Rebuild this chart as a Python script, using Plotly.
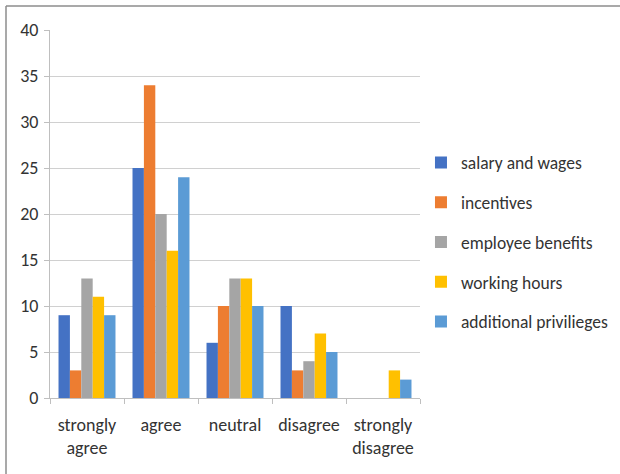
import plotly.graph_objects as go

categories = ["strongly<br>agree", "agree", "neutral", "disagree", "strongly<br>disagree"]
series_names = ["salary and wages", "incentives", "employee benefits", "working hours", "additional privilieges"]
salary = [9, 25, 6, 10, 0]
incentives = [3, 34, 10, 3, 0]
benefits = [13, 20, 13, 4, 0]
hours = [11, 16, 13, 7, 3]
privileges = [9, 24, 10, 5, 2]
colors = ["#4472C4", "#ED7D31", "#A5A5A5", "#FFC000", "#5B9BD5"]
y_ticks = [0, 5, 10, 15, 20, 25, 30, 35, 40]

font_family = "Carlito, DejaVu Sans Condensed, Roboto, sans-serif"

L, R, T, B = 50, 200, 30, 76
PW = 620 - L - R
PH = 474 - T - B

fig = go.Figure()
for i, (name, vals) in enumerate(zip(series_names, [salary, incentives, benefits, hours, privileges])):
    fig.add_trace(go.Bar(x=categories, y=vals, name=name, marker_color=colors[i],
                         marker_line_width=0, legendgroup=name))

fig.update_layout(
    width=620, height=474,
    margin=dict(l=L, r=R, t=T, b=B, autoexpand=False),
    paper_bgcolor="white", plot_bgcolor="white",
    barmode="group", bargap=0.23, bargroupgap=0,
    font=dict(family=font_family, size=18, color="#333333"),
    legend=dict(x=0.679, xref="container", xanchor="left",
                y=0.489, yref="container", yanchor="middle",
                font=dict(size=17.5, family=font_family, color="#333333"), tracegroupgap=14,
                bgcolor="rgba(0,0,0,0)"),
    xaxis=dict(showline=True, linecolor="#bfbfbf", linewidth=1,
               ticks="outside", ticklen=5, tickcolor="#bfbfbf", tickson="boundaries",
               ticklabelstandoff=10,
               tickfont=dict(size=18, family=font_family, color="#333333")),
    yaxis=dict(range=[0, 40], tickvals=y_ticks, showgrid=True, gridcolor="#d0d0d0",
               showline=True, linecolor="#bfbfbf", linewidth=1,
               ticks="outside", ticklen=5, tickcolor="#bfbfbf", zeroline=False,
               ticklabelstandoff=2,
               tickfont=dict(size=18, family=font_family, color="#333333")),
)

# outer border (top and left edges)
top = (474 - B - 6) / PH
left = (6 - L) / PW
fig.add_shape(type="line", xref="paper", yref="paper",
              x0=left, x1=(620 - L) / PW, y0=top, y1=top,
              line=dict(color="#8c8c8c", width=1.5))
fig.add_shape(type="line", xref="paper", yref="paper",
              x0=left, x1=left, y0=top, y1=-B / PH,
              line=dict(color="#8c8c8c", width=1.5))

fig.write_html("out.html")
